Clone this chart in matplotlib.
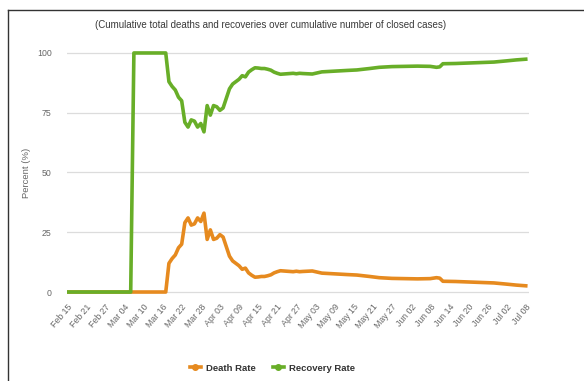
import matplotlib
matplotlib.use("Agg")
import matplotlib.pyplot as plt
from matplotlib.lines import Line2D

# ---- data (day offset from Feb 15, 2020) ----
days = [0, 20, 21, 31] + list(range(32, 75)) + [77, 80, 84, 88, 91, 95, 98, 102, 106, 110,
                                                114, 116, 117, 118, 122, 126, 130, 134, 138, 141, 144]

death_rate = [0, 0, 0, 0,
              12, 14, 15.5, 18.5, 20, 29, 31, 28, 28.5, 31, 29.5, 33, 22, 26, 22, 22.5, 24, 23,
              19, 15, 13, 12, 11, 9.5, 10, 8, 7, 6.2, 6.3, 6.5, 6.5, 6.8, 7.2, 8, 8.5, 8.9, 8.8,
              8.7, 8.6, 8.5, 8.7, 8.5, 8.6,
              8.8, 7.9, 7.6, 7.3, 7.1, 6.5, 6.0, 5.7, 5.6, 5.5, 5.6, 6.0, 5.8, 4.5, 4.4, 4.2,
              4.0, 3.8, 3.3, 2.9, 2.6]

recovery_rate = [0, 0, 100, 100,
                 88, 86, 84.5, 81.5, 80, 71, 69, 72, 71.5, 69, 70.5, 67, 78, 74, 78, 77.5, 76, 77,
                 81, 85, 87, 88, 89, 90.5, 90, 92, 93, 93.8, 93.7, 93.5, 93.5, 93.2, 92.8, 92, 91.5,
                 91.1, 91.2, 91.3, 91.4, 91.5, 91.3, 91.5, 91.4,
                 91.2, 92.1, 92.4, 92.7, 92.9, 93.5, 94.0, 94.3, 94.4, 94.5, 94.4, 94.0, 94.2, 95.5,
                 95.6, 95.8, 96.0, 96.2, 96.7, 97.1, 97.4]

tick_labels = ["Feb 15", "Feb 21", "Feb 27", "Mar 04", "Mar 10", "Mar 16", "Mar 22", "Mar 28",
               "Apr 03", "Apr 09", "Apr 15", "Apr 21", "Apr 27", "May 03", "May 09", "May 15",
               "May 21", "May 27", "Jun 02", "Jun 08", "Jun 14", "Jun 20", "Jun 26", "Jul 02",
               "Jul 08"]
y_ticks = [0, 25, 50, 75, 100]

title = "(Cumulative total deaths and recoveries over cumulative number of closed cases)"

ORANGE = "#E68A1F"
GREEN = "#68AE28"
FONT = ["Liberation Sans", "DejaVu Sans"]

plt.rcParams["font.family"] = FONT

fig = plt.figure(figsize=(5.84, 3.81), dpi=100)
fig.patch.set_facecolor("white")
ax = fig.add_axes([0.1147, 0.221, 0.791, 0.6525])

ax.plot(days, death_rate, color=ORANGE, lw=2.6, solid_joinstyle="round", label="Death Rate", zorder=3)
ax.plot(days, recovery_rate, color=GREEN, lw=2.6, solid_joinstyle="round", label="Recovery Rate", zorder=4)

ax.set_xlim(0, 145)
ax.set_ylim(-2, 102)
ax.set_yticks(y_ticks)
ax.set_yticklabels([str(v) for v in y_ticks])
ax.set_xticks(list(range(0, 145, 6)))
ax.set_xticklabels(tick_labels, rotation=50, ha="right", rotation_mode="anchor")

ax.grid(axis="y", color="#dcdcdc", lw=0.9)
ax.set_axisbelow(True)
for s in ax.spines.values():
    s.set_visible(False)
ax.tick_params(axis="both", length=0, labelsize=6.3, colors="#666666")
ax.tick_params(axis="y", pad=11)
ax.tick_params(axis="x", pad=4)

ax.set_ylabel("Percent (%)", fontsize=6.8, color="#666666", labelpad=4)

fig.text(0.464, 0.934, title, ha="center", va="center", fontsize=7.0, color="#3a3a3a")

handles = [Line2D([0], [0], color=ORANGE, lw=2.6, marker="o", markersize=4),
           Line2D([0], [0], color=GREEN, lw=2.6, marker="o", markersize=4)]
leg = fig.legend(handles, ["Death Rate", "Recovery Rate"], loc="center", bbox_to_anchor=(0.466, 0.034),
                 ncol=2, frameon=False, fontsize=6.8, handlelength=1.2, handletextpad=0.5,
                 columnspacing=1.8)
for t in leg.get_texts():
    t.set_color("#333333")
    t.set_fontweight("bold")

# frame lines of the cropped picture (left and top)
fig.add_artist(Line2D([8 / 584, 8 / 584], [0, 1 - 10 / 381], transform=fig.transFigure,
                      color="#333333", lw=1.0))
fig.add_artist(Line2D([8 / 584, 1], [1 - 10 / 381, 1 - 10 / 381], transform=fig.transFigure,
                      color="#333333", lw=1.0))

fig.savefig("out.png", dpi=100, facecolor="white")
